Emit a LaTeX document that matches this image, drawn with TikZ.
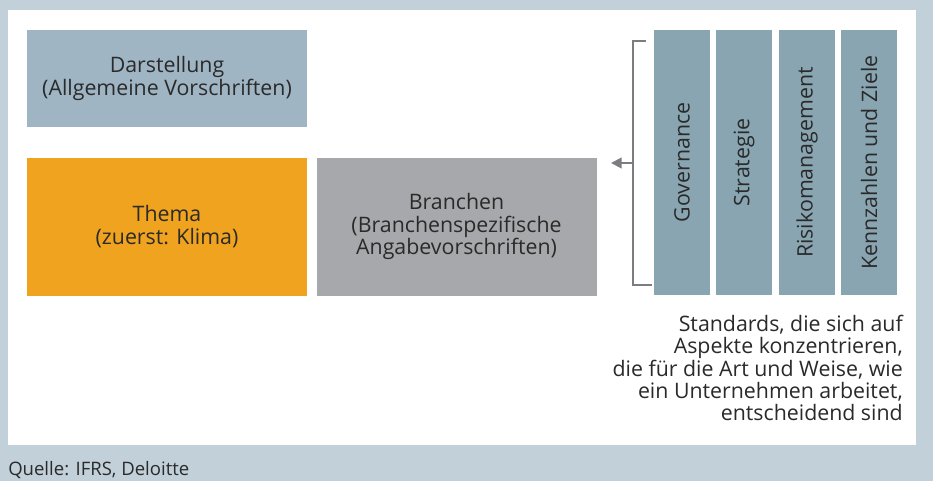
\documentclass[tikz,border=0pt]{standalone}
\usepackage{fontspec}
\setmainfont{Open Sans}
\usetikzlibrary{positioning,arrows.meta}
\definecolor{panelbg}{HTML}{C2D0DA}
\definecolor{generalblue}{HTML}{A0B5C3}
\definecolor{coreblue}{HTML}{88A5B1}
\definecolor{topicorange}{HTML}{F0A31E}
\definecolor{industrygray}{HTML}{A7A8AB}
\definecolor{bracketgray}{HTML}{7B7D80}
\definecolor{textdark}{HTML}{2A2A2A}
\tikzset{
box/.style={rectangle, inner sep=0pt, align=center, text=textdark, font=\fontsize{16}{16.8}\selectfont},
general/.style={box, fill=generalblue, minimum width=210pt, minimum height=72.75pt},
topic/.style={box, fill=topicorange, minimum width=210pt, minimum height=103.5pt},
industry/.style={box, fill=industrygray, minimum width=210pt, minimum height=103.5pt},
core/.style={box, fill=coreblue, rotate=90, minimum width=198.75pt, minimum height=42pt},
bracket/.style={draw=bracketgray, line width=1.5pt},
arrow/.style={bracketgray, line width=1.5pt, -{Triangle[length=8pt,width=8pt]}},
}

\begin{document}
\begin{tikzpicture}[x=0.75pt,y=-0.75pt]
\fill[panelbg] (0,0) rectangle (933,481);
\fill[white] (8,10) rectangle (916,445);
\useasboundingbox (0,0) rectangle (933,481);

\node[general] (darstellung) at (167,78.5) {Darstellung\\(Allgemeine Vorschriften)};
\node[topic, below=22.5pt of darstellung] (thema) {Thema\\(zuerst: Klima)};
\node[industry, right=6.75pt of thema] (branchen) {Branchen\\(Branchenspezifische\\Angabevorschriften)};

\node[core] (governance) at (682,162.5) {Governance};
\node[core] (strategie) at (744,162.5) {Strategie};
\node[core] (risiko) at (807,162.5) {Risikomanagement};
\node[core] (kennzahlen) at (869,162.5) {Kennzahlen und Ziele};

% bracket round the four core standards
\coordinate (brtop) at (633,41);
\coordinate (brbot) at (633,285);
\coordinate (brmid) at (633,163);
\coordinate (arrowtip) at (611,163);
\draw[bracket] (646,41) -- (brtop) -- (brbot) -- (652,285);
\draw[arrow] (brmid) -- (arrowtip);

\node[box, anchor=base east, align=right] (standards) at (903,421)
  {Standards, die sich auf\\Aspekte konzentrieren,\\die für die Art und Weise, wie\\ein Unternehmen arbeitet,\\entscheidend sind};

\node[box, anchor=base west, font=\fontsize{13.9}{15}\selectfont] (quelle) at (8,475) {Quelle: IFRS, Deloitte};
\end{tikzpicture}
\end{document}
